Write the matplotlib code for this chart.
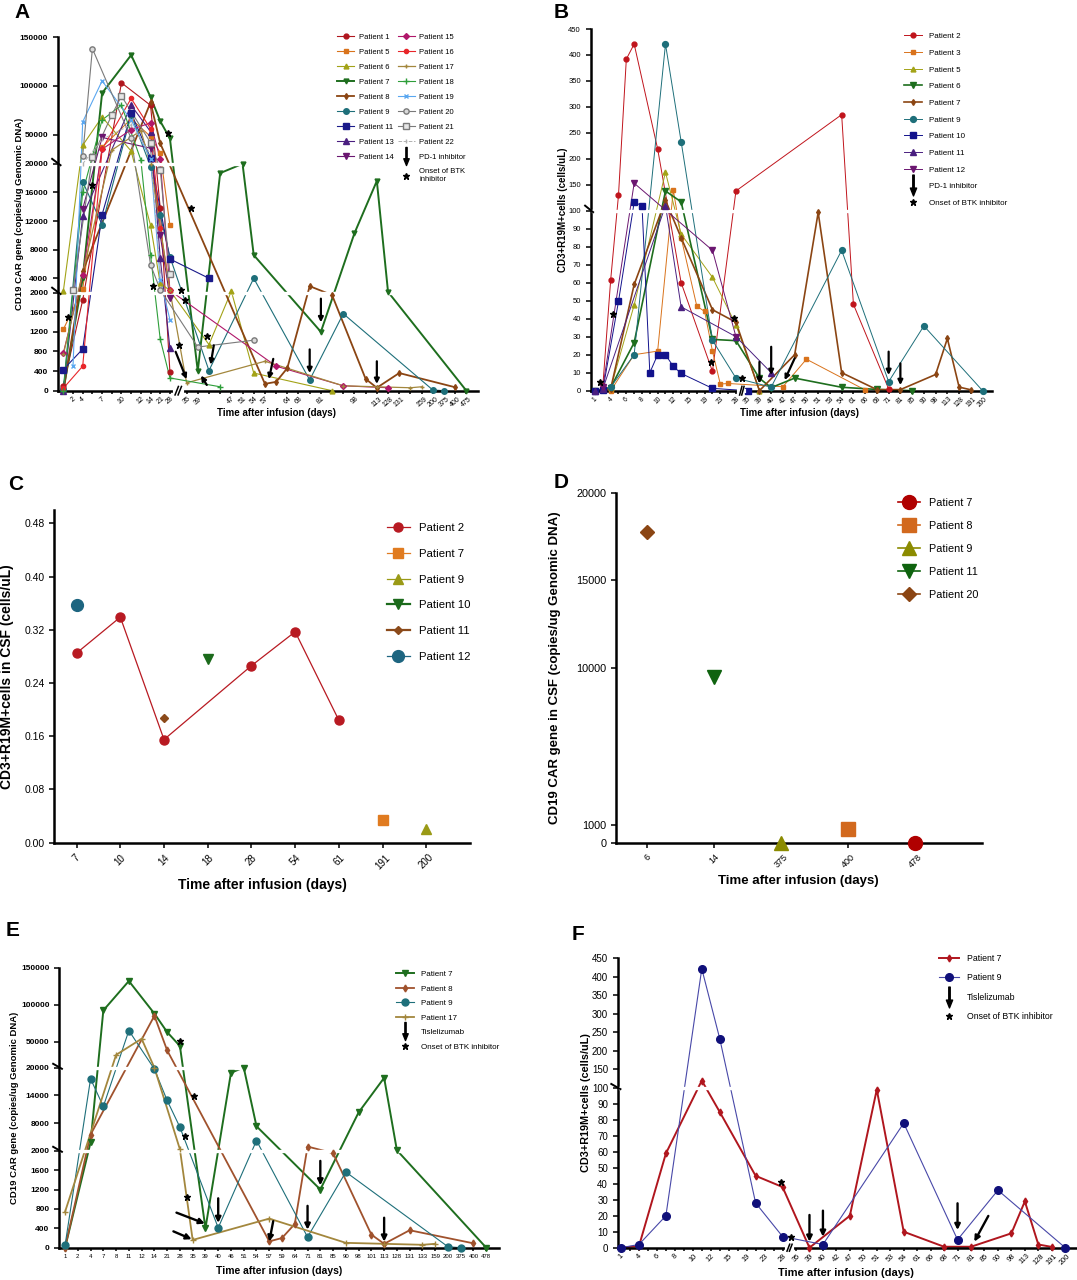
import numpy as np
import matplotlib
matplotlib.use('Agg')
import matplotlib.pyplot as plt
from matplotlib.lines import Line2D
from matplotlib.path import Path

plt.rcParams['font.family'] = ['Liberation Sans', 'DejaVu Sans']

# ---------------- x categories (days after infusion) ----------------
DAYS_A_PRE = [1, 2, 4, 6, 7, 8, 10, 11, 12, 14, 21, 28]
DAYS_A_POST = [35, 39, 40, 46, 47, 51, 54, 57, 59, 64, 68, 71, 81, 85, 90, 98, 101,
               113, 128, 131, 133, 159, 200, 375, 400, 475]
HIDDEN_A = [1, 6, 8, 11, 40, 46, 59, 71, 85, 90, 101, 133]

DAYS_B_PRE = [1, 3, 4, 5, 6, 7, 8, 9, 10, 11, 12, 14, 15, 17, 19, 21, 23, 25, 28]
DAYS_B_POST = [35, 39, 40, 42, 47, 50, 51, 53, 54, 61, 66, 68, 71, 81, 85, 90, 98,
               113, 128, 191, 200]
HIDDEN_B = [3, 5, 7, 9, 11, 14, 17, 21, 25]

DAYS_C = [7, 10, 14, 18, 28, 54, 61, 191, 200]
DAYS_D = [6, 14, 375, 400, 478]
DAYS_E = [1, 2, 4, 7, 8, 11, 12, 14, 21, 28, 35, 39, 40, 46, 51, 54, 57, 59, 64, 71,
          81, 85, 90, 98, 101, 113, 128, 131, 133, 159, 200, 375, 400, 478]

# ---------------- panel A: CAR copies in blood (day, value) ----------------
a_p1 = [(1, 100), (4, 1850), (10, 103000), (14, 80000), (21, 13800), (28, 380)]
a_p5 = [(1, 1250), (4, 2500), (7, 37000), (11, 66000), (14, 48000), (21, 31500), (28, 11400)]
a_p6 = [(1, 2200), (4, 39000), (7, 68000), (11, 33000), (14, 11400), (21, 3300), (28, 2300),
        (40, 940), (47, 2200), (54, 360), (85, 0)]
a_p7 = [(1, 0), (4, 4000), (7, 92500), (11, 131500), (14, 88500), (21, 63700), (28, 46000),
        (39, 400), (46, 18700), (51, 20000), (54, 7250), (81, 1200), (98, 10300),
        (113, 17600), (128, 2100), (475, 0)]
a_p8 = [(1, 0), (4, 5000), (14, 83000), (21, 41000), (57, 140), (59, 180), (64, 460),
        (71, 2900), (85, 1950), (101, 240), (113, 60), (131, 360), (400, 70)]
a_p9 = [(1, 30), (4, 17500), (7, 11500), (11, 70000), (14, 19600), (21, 12800), (28, 7000),
        (40, 410), (54, 4000), (71, 220), (90, 1570), (200, 15), (375, 0)]
a_p11 = [(1, 430), (4, 850), (7, 12900), (11, 72000), (14, 26000), (28, 6700), (40, 4000)]
a_p13 = [(1, 0), (4, 12700), (11, 80000), (14, 53000), (21, 6800), (28, 870)]
a_p14 = [(4, 13700), (7, 47000), (14, 36000), (21, 10000), (28, 1900)]
a_p15 = [(1, 770), (4, 4500), (7, 35000), (11, 55000), (14, 62000), (21, 25000), (28, 2300),
         (59, 500), (90, 100), (128, 60)]
a_p16 = [(1, 50), (4, 500), (7, 35000), (11, 87000), (14, 56000), (21, 11000), (28, 2400)]
a_p17 = [(1, 740), (8, 34000), (12, 54000), (14, 20000), (28, 2300), (35, 160), (57, 600),
         (90, 100), (113, 80), (133, 60), (159, 80)]
a_p18 = [(1, 0), (4, 16000), (7, 65000), (10, 80000), (12, 24000), (14, 7300), (21, 1050),
         (28, 260), (46, 80)]
a_p19 = [(2, 500), (4, 63000), (7, 105000), (11, 65000), (14, 25000), (21, 3800), (28, 1450)]
a_p20 = [(4, 28500), (6, 138000), (11, 46000), (14, 5900), (21, 2400), (39, 890), (54, 1030)]
a_p21 = [(2, 2400), (6, 26800), (8, 70000), (10, 89500), (14, 41700), (21, 19200), (28, 4600)]
a_p22 = [(4, 20000), (7, 45000), (11, 60000), (14, 30000), (21, 5000)]
a_stars = [(1, 0.5, 1511), (6, 0, 17100), (14, 0.27, 2870), (28, -0.17, 51900),
           (28, 1.13, 2400), (28, 1.6, 1842), (28, 0.93, 925), (35, 0.45, 13860),
           (39, 0.93, 1118)]
a_arrows = [(40, 0.5, 925, 0.17, 531), (57, 0.86, 649, 0.41, 235), (71, 0, 842, 0, 359),
            (81, 0, 1877, 0, 1394), (113, 0, 600, 0, 138), (35, -1.13, 794, 0, 235),
            (39, 0.93, 117, 0.34, 310)]

# ---------------- panel B: CAR-T cells in blood ----------------
b_p2 = [(3, 2.6), (4, 61.5), (5, 130), (6, 392), (7, 421), (10, 219), (14, 60), (21, 10.7),
        (28, 138), (54, 285), (61, 48), (71, 1)]
b_p3 = [(1, 0), (4, 0), (7, 20), (10, 22), (12, 140), (14, 85), (17, 47), (19, 44), (21, 22),
        (23, 3.7), (25, 4), (42, 2.2), (50, 17.5), (66, 0.4)]
b_p5 = [(1, 0), (4, 1.3), (7, 47.6), (11, 174), (14, 87), (21, 63), (28, 36.5), (39, 0)]
b_p6 = [(1, 0), (4, 1.7), (7, 26.7), (11, 138), (14, 117), (21, 28.5), (28, 27.8), (39, 6.9),
        (40, 1.7), (47, 7), (54, 1.9), (68, 0.7), (85, 0)]
b_p7 = [(1, 0), (4, 1), (7, 59), (11, 120), (14, 85), (21, 45), (28, 38), (39, 0), (47, 20),
        (51, 99), (54, 10), (68, 0.6), (81, 0.6), (98, 9), (113, 29), (128, 2), (191, 0.5)]
b_p9 = [(1, 0), (4, 2), (7, 20), (11, 421), (14, 233), (21, 28), (28, 7), (40, 2), (54, 78),
        (71, 5), (90, 36), (200, 0)]
b_p10 = [(1, 0), (3, 0.4), (5, 49.6), (7, 116), (8, 110), (9, 10), (10, 20), (11, 20),
         (12, 13.5), (14, 9.6), (21, 1.3), (35, 0)]
b_p11 = [(1, 0), (3, 1), (11, 110), (14, 46.6), (28, 30), (40, 10)]
b_p12 = [(3, 2), (7, 153), (21, 78), (28, 30)]
b_stars = [(1, 0.64, 5), (4, 0.26, 42.4), (21, -0.13, 15.7), (28, -0.3, 40.2), (28, 0.81, 6.9)]
b_arrows = [(39, 0, 16, 0, 4), (40, 0, 24.4, 0, 8.7), (47, 0, 18, -1.28, 5.9),
            (71, 0, 21.7, 0, 8.7), (81, 0, 15.2, 0, 3.1)]

# ---------------- panel C: CAR-T cells in CSF ----------------
c_p2 = [(7, 0.285), (10, 0.339), (14, 0.155), (28, 0.266), (54, 0.317), (61, 0.184)]
c_p7 = [(191, 0.034)]
c_p9 = [(200, 0.020)]
c_p10 = [(18, 0.276)]
c_p11 = [(14, 0.188)]
c_p12 = [(7, 0.357)]

# ---------------- panel D: CAR copies in CSF ----------------
d_p7 = [(478, 0)]
d_p8 = [(400, 770)]
d_p9 = [(375, 0)]
d_p11 = [(14, 9500)]
d_p20 = [(6, 17750)]

# ---------------- panel E ----------------
e_p7 = [(1, 0), (4, 3800), (7, 92300), (11, 132000), (14, 88000), (21, 63000), (28, 45000),
        (39, 400), (46, 18900), (51, 20200), (54, 7300), (81, 1200), (98, 10300),
        (113, 17800), (128, 2100), (478, 0)]
e_p8 = [(1, 0), (4, 5500), (14, 85000), (21, 40000), (57, 130), (59, 200), (64, 490),
        (71, 2900), (85, 1950), (101, 270), (113, 80), (131, 360), (400, 90)]
e_p9 = [(1, 50), (4, 17600), (7, 11600), (11, 65000), (14, 19700), (21, 12900), (28, 7100),
        (40, 410), (54, 4200), (71, 220), (90, 1560), (200, 20), (375, 0)]
e_p17 = [(1, 740), (8, 34800), (12, 54000), (14, 20000), (28, 2300), (35, 160), (57, 600),
         (90, 100), (113, 80), (133, 60), (159, 80)]
e_stars = [(28, 0, 51100), (35, 0.13, 13960), (28, 0.39, 5130), (28, 0.52, 1053)]
e_arrows = [(39, -2.27, 723, -0.05, 498), (35, -1.51, 337, -0.08, 175), (40, 0, 1018, 0, 512),
            (57, 0.31, 547, 0, 126), (71, 0, 863, 0, 372), (81, 0, 1790, 0, 1285),
            (113, 0, 618, 0, 126)]

# ---------------- panel F ----------------
f_p7 = [(1, 0), (4, 1), (7, 59), (11, 120), (14, 85), (21, 45), (28, 38), (39, 0), (47, 20),
        (51, 99), (54, 10), (68, 0.6), (81, 0.6), (98, 9), (113, 29), (128, 2), (191, 0.5)]
f_p9 = [(1, 0), (4, 2), (7, 20), (11, 421), (14, 233), (21, 28), (28, 7), (40, 2), (54, 78),
        (71, 5), (90, 36), (200, 0)]
f_stars = [(28, -0.22, 41.4), (28, 0.89, 6.9)]
f_arrows = [(39, 0, 20.5, 0, 3.8), (40, 0, 23.2, 0, 6.9), (71, 0, 27.8, 0, 11.1),
            (81, 1.93, 19.9, 0.37, 3.8)]

W, H = 1077, 1280
fig = plt.figure(figsize=(W / 100, H / 100), dpi=100)

ARROW = Path([(-0.07, 1), (0.07, 1), (0.07, -0.25), (0.3, -0.25), (0, -1),
              (-0.3, -0.25), (-0.07, -0.25), (-0.07, 1)], closed=True)


def add_axes(l, t, r, b):
    ax = fig.add_axes([l / W, 1 - b / H, (r - l) / W, (b - t) / H])
    for s in ('top', 'right'):
        ax.spines[s].set_visible(False)
    for s in ('left', 'bottom'):
        ax.spines[s].set_linewidth(1.8)
    ax.tick_params(width=1.1, length=3.5)
    return ax


def lin_interp(v, a, b):
    v = np.asarray(v, float)
    out = np.interp(v, a, b)
    s0 = (b[1] - b[0]) / (a[1] - a[0])
    s1 = (b[-1] - b[-2]) / (a[-1] - a[-2])
    out = np.where(v < a[0], b[0] + (v - a[0]) * s0, out)
    out = np.where(v > a[-1], b[-1] + (v - a[-1]) * s1, out)
    return out


def broken_y(ax, vals, pix, top, breaks):
    vals = np.asarray(vals, float)
    pix = np.asarray(pix, float)
    ax.set_yscale('function', functions=(lambda v: lin_interp(v, vals, pix),
                                         lambda p: lin_interp(p, pix, vals)))
    ax.set_ylim(0, top)
    full = float(lin_interp(top, vals, pix))
    for v in breaks:
        f = float(lin_interp(v, vals, pix)) / full
        # white gap cuts the lines, markers stay on top of it
        ax.axhline(v, xmin=0.006, color='white', lw=2.4, zorder=3)
        ax.plot([-0.014, 0.006], [f + 0.014, f - 0.004], transform=ax.transAxes,
                color='k', lw=1.4, clip_on=False, zorder=7)


def xbreak(ax, xb, w):
    tr = ax.get_xaxis_transform()
    ax.plot([xb - w, xb + w], [0, 0], transform=tr, color='white', lw=3, clip_on=False, zorder=6)
    for off in (-0.45 * w, 0.45 * w):
        ax.plot([xb + off - 0.5 * w, xb + off + 0.5 * w], [-0.012, 0.012], transform=tr,
                color='k', lw=1.1, clip_on=False, zorder=7)


def positions(pre, post=(), gap=1.0, step=1.0):
    pos = {d: float(i) for i, d in enumerate(pre)}
    for j, d in enumerate(post):
        pos[d] = len(pre) - 1 + gap + step * j
    return pos


def draw(ax, pts, pos, sty):
    x = [pos[d] for d, v in pts]
    y = [v for d, v in pts]
    line = {k: v for k, v in sty.items() if k in ('color', 'lw', 'ls')}
    mk = {k: v for k, v in sty.items() if k not in ('lw', 'ls')}
    ax.plot(x, y, clip_on=False, zorder=2, **line)
    ax.plot(x, y, ls='none', clip_on=False, zorder=4, **mk)


def stars(ax, pos, items, ms=4.5):
    x = [pos[d] + dx for d, dx, v in items]
    y = [v for d, dx, v in items]
    ax.plot(x, y, ls='none', marker='*', color='k', ms=ms, zorder=6, clip_on=False)


def arrows(ax, pos, items, lw=1.6, ms=8):
    for d, dx0, v0, dx1, v1 in items:
        an = ax.annotate('', xy=(pos[d] + dx1, v1), xytext=(pos[d] + dx0, v0),
                         arrowprops=dict(arrowstyle='-|>', color='k', lw=lw, mutation_scale=ms,
                                         shrinkA=0, shrinkB=0))
        an.set_zorder(6)


def xcats(ax, pos, days, hidden, fs, rot):
    ax.set_xticks([pos[d] for d in days])
    ax.set_xticklabels(['' if d in hidden else str(d) for d in days], fontsize=fs,
                       rotation=rot)


def labels(ax, ylab, xlab, yx, xy, xx, fs_y, fs_x):
    ax.set_ylabel(ylab, fontsize=fs_y, fontweight='bold')
    ax.yaxis.set_label_coords(yx, 0.5)
    ax.yaxis.label.set_va('center')
    ax.set_xlabel(xlab, fontsize=fs_x, fontweight='bold')
    ax.xaxis.set_label_coords(xx, xy)
    ax.xaxis.label.set_va('center')


def handle(sty):
    return Line2D([], [], **sty)


XLAB = 'Time after infusion (days)'
CAR_LAB = 'CD19 CAR gene (copies/ug Genomic DNA)'
CELL_LAB = 'CD3+R19M+cells (cells/uL)'

# =============== A ===============
axA = add_axes(58, 37, 478, 390.7)
posA = positions(DAYS_A_PRE, DAYS_A_POST, gap=1.72, step=1.155)
broken_y(axA, [0, 2000, 20000, 150000], [0, 98, 226.7, 353.4], 150000, [2000, 20000])
axA.set_xlim(-0.55, posA[475] + 1.2)
xcats(axA, posA, DAYS_A_PRE + DAYS_A_POST, HIDDEN_A, 5, 40)
axA.set_yticks([0, 400, 800, 1200, 1600, 2000, 4000, 8000, 12000, 16000, 20000, 50000,
                100000, 150000])
axA.tick_params(axis='y', labelsize=6)
for t in axA.get_yticklabels():
    t.set_fontweight('bold')
axA.tick_params(axis='x', length=2.5, pad=1)
xbreak(axA, posA[28] + 0.86, 0.35)

sA = {
    'Patient 1': (a_p1, dict(color='#B0161E', marker='o', ms=3.5, lw=0.8)),
    'Patient 5': (a_p5, dict(color='#D9731C', marker='s', ms=3.5, lw=0.8)),
    'Patient 6': (a_p6, dict(color='#A3A317', marker='^', ms=3.5, lw=0.8)),
    'Patient 7': (a_p7, dict(color='#1E6E1E', marker='v', ms=3.5, lw=1.4)),
    'Patient 8': (a_p8, dict(color='#8B4513', marker='d', ms=3, lw=1.3)),
    'Patient 9': (a_p9, dict(color='#1E6F7A', marker='o', ms=4, lw=0.8)),
    'Patient 11': (a_p11, dict(color='#1A1A8A', marker='s', ms=4, lw=0.8)),
    'Patient 13': (a_p13, dict(color='#4A1F80', marker='^', ms=3.8, lw=0.8)),
    'Patient 14': (a_p14, dict(color='#6B1670', marker='v', ms=3.8, lw=0.8)),
    'Patient 15': (a_p15, dict(color='#B0176A', marker='D', ms=3, lw=0.8)),
    'Patient 16': (a_p16, dict(color='#E8262A', marker='o', ms=3, lw=0.8)),
    'Patient 17': (a_p17, dict(color='#A3873D', marker='+', ms=3.5, lw=0.9)),
    'Patient 18': (a_p18, dict(color='#2E9E3A', marker='+', ms=4, lw=0.8, mew=1)),
    'Patient 19': (a_p19, dict(color='#5AA7F0', marker='x', ms=3.5, lw=0.8)),
    'Patient 20': (a_p20, dict(color='#7A7A7A', marker='o', ms=3.8, lw=0.8, mfc='#DADADA')),
    'Patient 21': (a_p21, dict(color='#7A7A7A', marker='s', ms=3.8, lw=0.8, mfc='#E6E6E6')),
    'Patient 22': (a_p22, dict(color='#B0B0B0', marker='|', ms=3.5, lw=0.7, ls='--')),
}
for name, (pts, sty) in sA.items():
    draw(axA, pts, posA, sty)
stars(axA, posA, a_stars)
arrows(axA, posA, a_arrows, lw=1.6, ms=7)
labels(axA, CAR_LAB, XLAB, -0.0905, -0.063, 0.52, 6.8, 7)

order1 = ['Patient 1', 'Patient 5', 'Patient 6', 'Patient 7', 'Patient 8', 'Patient 9',
          'Patient 11', 'Patient 13', 'Patient 14']
order2 = ['Patient 15', 'Patient 16', 'Patient 17', 'Patient 18', 'Patient 19', 'Patient 20',
          'Patient 21', 'Patient 22']
hA = [handle(dict(sA[n][1], label=n)) for n in order1]
hA.append(Line2D([], [], color='none', label=' '))
hA += [handle(dict(sA[n][1], label=n)) for n in order2]
hA.append(Line2D([], [], ls='none', marker=ARROW, ms=13, color='k', label='PD-1 inhibitor'))
hA.append(Line2D([], [], ls='none', marker='*', ms=4.5, color='k',
                 label='Onset of BTK\ninhibitor'))
axA.legend(handles=hA, ncol=2, loc='upper left', bbox_to_anchor=(0.665, 1.01), frameon=False,
           fontsize=5.5, handlelength=2.2, handletextpad=0.6, columnspacing=0.6,
           labelspacing=1.0, borderaxespad=0, borderpad=0)

# =============== B ===============
axB = add_axes(590.7, 29, 992, 390.7)
posB = positions(DAYS_B_PRE, DAYS_B_POST, gap=1.5, step=1.5)
broken_y(axB, [0, 100, 450], [0, 180, 361.7], 450, [100])
axB.set_xlim(-0.55, 50.7)
xcats(axB, posB, DAYS_B_PRE + DAYS_B_POST, HIDDEN_B, 4.8, 45)
axB.set_yticks(list(range(0, 101, 10)) + list(range(150, 451, 50)))
axB.tick_params(axis='y', labelsize=5.5)
axB.tick_params(axis='x', length=2.5, pad=1)
xbreak(axB, posB[28] + 0.75, 0.3)

sB = {
    'Patient 2': (b_p2, dict(color='#C0141C', marker='o', ms=3.5, lw=0.7)),
    'Patient 3': (b_p3, dict(color='#D9731C', marker='s', ms=3.5, lw=0.7)),
    'Patient 5': (b_p5, dict(color='#A3A317', marker='^', ms=3.5, lw=0.7)),
    'Patient 6': (b_p6, dict(color='#1E6E1E', marker='v', ms=3.8, lw=1.2)),
    'Patient 7': (b_p7, dict(color='#8B4513', marker='d', ms=3, lw=1.2)),
    'Patient 9': (b_p9, dict(color='#1E6F7A', marker='o', ms=4.2, lw=0.7)),
    'Patient 10': (b_p10, dict(color='#12128C', marker='s', ms=4.2, lw=0.7)),
    'Patient 11': (b_p11, dict(color='#4A1F80', marker='^', ms=4, lw=0.7)),
    'Patient 12': (b_p12, dict(color='#6B1670', marker='v', ms=4, lw=0.7)),
}
for name, (pts, sty) in sB.items():
    draw(axB, pts, posB, sty)
stars(axB, posB, b_stars)
arrows(axB, posB, b_arrows, lw=1.6, ms=7)
labels(axB, CELL_LAB, XLAB, -0.069, -0.0617, 0.52, 7, 7)
hB = [handle(dict(sty, label=n)) for n, (pts, sty) in sB.items()]
hB.append(Line2D([], [], ls='none', marker=ARROW, ms=15, color='k', label='PD-1 inhibitor'))
hB.append(Line2D([], [], ls='none', marker='*', ms=4.5, color='k', label='Onset of BTK inhibitor'))
axB.legend(handles=hB, loc='upper left', bbox_to_anchor=(0.78, 0.99), frameon=False,
           fontsize=5.8, handlelength=2.3, handletextpad=0.9, labelspacing=1.12,
           borderaxespad=0, borderpad=0)

# =============== C ===============
axC = add_axes(54.3, 510, 470, 842.7)
posC = positions(DAYS_C)
axC.set_ylim(0, 0.5)
axC.set_xlim(-0.51, 9.0)
xcats(axC, posC, DAYS_C, [], 7, 45)
axC.set_yticks([0, 0.08, 0.16, 0.24, 0.32, 0.40, 0.48])
axC.set_yticklabels(['0.00', '0.08', '0.16', '0.24', '0.32', '0.40', '0.48'], fontsize=7.5)
sC = {
    'Patient 2': (c_p2, dict(color='#B81A22', marker='o', ms=6.5, lw=0.9)),
    'Patient 7': (c_p7, dict(color='#E07B20', marker='s', ms=6.5, lw=0.9)),
    'Patient 9': (c_p9, dict(color='#9A9A16', marker='^', ms=6.5, lw=0.9)),
    'Patient 10': (c_p10, dict(color='#1B6A1B', marker='v', ms=6.5, lw=1.6)),
    'Patient 11': (c_p11, dict(color='#8B4A1A', marker='D', ms=4.5, lw=1.6)),
    'Patient 12': (c_p12, dict(color='#1D6580', marker='o', ms=8.5, lw=0.9)),
}
for name, (pts, sty) in sC.items():
    draw(axC, pts, posC, sty)
labels(axC, 'CD3+R19M+cells in CSF (cells/uL)', XLAB, -0.1145, -0.127, 0.5, 10, 10)
axC.legend(handles=[handle(dict(sty, label=n)) for n, (pts, sty) in sC.items()],
           loc='upper left', bbox_to_anchor=(0.8, 0.962), frameon=False, fontsize=8.2,
           handlelength=2.0, handletextpad=0.8, labelspacing=1.4, borderaxespad=0,
           borderpad=0)

# =============== D ===============
axD = add_axes(616, 493, 982, 842.7)
posD = positions(DAYS_D)
axD.set_ylim(0, 20000)
axD.set_xlim(-0.47, 5.0)
xcats(axD, posD, DAYS_D, [], 6.5, 45)
axD.set_yticks([0, 1000, 10000, 15000, 20000])
axD.tick_params(axis='y', labelsize=7.8)
sD = {
    'Patient 7': (d_p7, dict(color='#B00000', marker='o', ms=10, lw=1.2)),
    'Patient 8': (d_p8, dict(color='#D2691E', marker='s', ms=9.5, lw=1.2)),
    'Patient 9': (d_p9, dict(color='#8B8B00', marker='^', ms=9.5, lw=1.2)),
    'Patient 11': (d_p11, dict(color='#0F630F', marker='v', ms=9.5, lw=1.2)),
    'Patient 20': (d_p20, dict(color='#8B4513', marker='D', ms=7, lw=1.2)),
}
for name, (pts, sty) in sD.items():
    draw(axD, pts, posD, sty)
labels(axD, 'CD19 CAR gene in CSF (copies/ug Genomic DNA)', XLAB, -0.167, -0.109, 0.497, 9.5, 9.5)
axD.legend(handles=[handle(dict(sty, label=n)) for n, (pts, sty) in sD.items()],
           loc='upper left', bbox_to_anchor=(0.771, 0.985), frameon=False, fontsize=7.8,
           handlelength=2.0, handletextpad=0.8, labelspacing=1.2, borderaxespad=0,
           borderpad=0)

# =============== E ===============
axE = add_axes(59.3, 967.7, 499, 1247.7)
posE = positions(DAYS_E)
broken_y(axE, [0, 2000, 20000, 50000, 150000], [0, 97, 180, 206, 280], 150000, [2000, 20000])
axE.set_xlim(-0.45, 34.0)
xcats(axE, posE, DAYS_E, [], 4.3, 0)
axE.set_yticks([0, 400, 800, 1200, 1600, 2000, 8000, 14000, 20000, 50000, 100000, 150000])
axE.tick_params(axis='y', labelsize=6)
for t in axE.get_yticklabels():
    t.set_fontweight('bold')
axE.tick_params(axis='x', length=2.5, pad=2)
sE = {
    'Patient 7': (e_p7, dict(color='#1E6E1E', marker='v', ms=4, lw=1.4)),
    'Patient 8': (e_p8, dict(color='#A0522D', marker='d', ms=3.5, lw=1.3)),
    'Patient 9': (e_p9, dict(color='#1E6F7A', marker='o', ms=5, lw=0.8)),
    'Patient 17': (e_p17, dict(color='#A3873D', marker='+', ms=4, lw=1.3)),
}
for name, (pts, sty) in sE.items():
    draw(axE, pts, posE, sty)
stars(axE, posE, e_stars)
arrows(axE, posE, e_arrows, lw=1.7, ms=8)
labels(axE, CAR_LAB, XLAB, -0.102, -0.082, 0.5, 6.8, 7.5)
hE = [handle(dict(sty, label=n)) for n, (pts, sty) in sE.items()]
hE.append(Line2D([], [], ls='none', marker=ARROW, ms=13, color='k', label='Tislelizumab'))
hE.append(Line2D([], [], ls='none', marker='*', ms=4.5, color='k', label='Onset of BTK inhibitor'))
axE.legend(handles=hE, loc='upper left', bbox_to_anchor=(0.765, 0.99), frameon=False,
           fontsize=5.8, handlelength=2.3, handletextpad=0.8, labelspacing=0.85,
           borderaxespad=0, borderpad=0)

# =============== F ===============
axF = add_axes(617.7, 958, 1076, 1247.7)
posF = positions(DAYS_B_PRE, DAYS_B_POST, gap=1.5, step=1.5)
broken_y(axF, [0, 100, 450], [0, 159.7, 289.7], 450, [100])
axF.set_xlim(-0.37, 50.7)
xcats(axF, posF, DAYS_B_PRE + DAYS_B_POST, HIDDEN_B, 5.3, 45)
axF.set_yticks(list(range(0, 101, 10)) + list(range(150, 451, 50)))
axF.tick_params(axis='y', labelsize=7)
axF.tick_params(axis='x', length=2.5, pad=1)
xbreak(axF, posF[28] + 0.78, 0.3)
sF = {
    'Patient 7': (f_p7, dict(color='#B0161E', marker='d', ms=3.5, lw=1.4)),
    'Patient 9': (f_p9, dict(color='#4848A8', marker='o', ms=5.5, lw=0.8, mfc='#10107A',
                             mec='#10107A')),
}
for name, (pts, sty) in sF.items():
    draw(axF, pts, posF, sty)
stars(axF, posF, f_stars, ms=5)
arrows(axF, posF, f_arrows, lw=1.7, ms=8)
labels(axF, CELL_LAB, XLAB, -0.069, -0.086, 0.498, 7.8, 8)
hF = [handle(dict(sty, label=n)) for n, (pts, sty) in sF.items()]
hF.append(Line2D([], [], ls='none', marker=ARROW, ms=15, color='k', label='Tislelizumab'))
hF.append(Line2D([], [], ls='none', marker='*', ms=5, color='k', label='Onset of BTK inhibitor'))
axF.legend(handles=hF, loc='upper left', bbox_to_anchor=(0.7, 1.015), frameon=False,
           fontsize=6.3, handlelength=2.3, handletextpad=0.9, labelspacing=1.2,
           borderaxespad=0, borderpad=0)

# panel letters
for letter, x, y in [('A', 22, 12), ('B', 561, 12), ('C', 16, 485), ('D', 561, 483),
                     ('E', 13, 930), ('F', 578, 935)]:
    fig.text(x / W, 1 - y / H, letter, fontsize=15, fontweight='bold', ha='center', va='center')

fig.savefig('out.png', dpi=100)
